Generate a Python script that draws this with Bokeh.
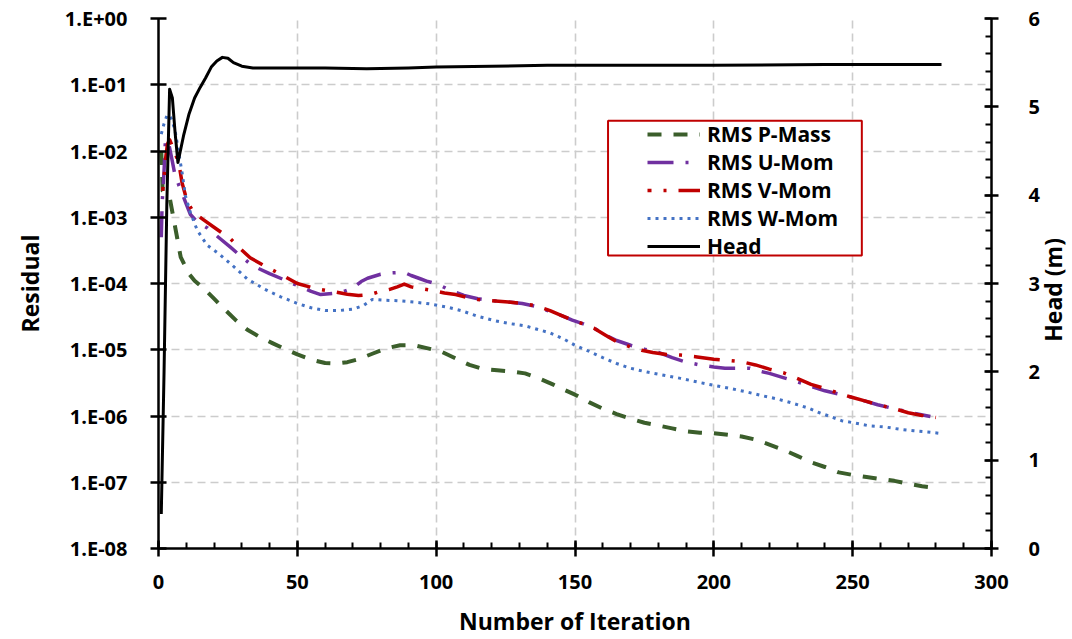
from bokeh.plotting import figure
from bokeh.layouts import row
from bokeh.models import (Range1d, LinearAxis, LinearScale, FixedTicker, CustomJSTickFormatter,
                          Legend, LegendItem, BoxAnnotation, Div)
from bokeh.embed import file_html
from bokeh.resources import INLINE

# ---------------- data ----------------
p_mass_iter = [1, 1.5, 4, 6, 8, 11, 13, 17, 20, 24, 28, 32, 36, 41, 45, 50, 55, 60, 64, 68, 72, 77,
               82, 87, 92, 97, 102, 107, 112, 117, 122, 127, 132, 137, 142, 146, 150, 155, 160, 165,
               170, 175, 180, 185, 190, 195, 200, 205, 210, 215, 220, 225, 230, 235, 240, 245, 250,
               255, 260, 265, 270, 275, 279]
p_mass_res = [1.0e-2, 2.5e-3, 2.0e-3, 7.1e-4, 2.5e-4, 1.4e-4, 1.1e-4, 7.9e-5, 5.9e-5, 4.0e-5, 2.75e-5,
              2.0e-5, 1.6e-5, 1.26e-5, 1.05e-5, 8.5e-6, 7.1e-6, 6.3e-6, 6.2e-6, 6.5e-6, 7.2e-6, 8.7e-6,
              1.05e-5, 1.17e-5, 1.17e-5, 1.05e-5, 9.3e-6, 7.4e-6, 5.9e-6, 5.1e-6, 4.9e-6, 4.7e-6, 4.4e-6,
              3.7e-6, 3.0e-6, 2.5e-6, 2.1e-6, 1.62e-6, 1.29e-6, 1.07e-6, 9.1e-7, 7.9e-7, 7.2e-7, 6.5e-7,
              5.9e-7, 5.6e-7, 5.5e-7, 5.2e-7, 4.9e-7, 4.4e-7, 3.7e-7, 3.1e-7, 2.5e-7, 2.0e-7, 1.7e-7,
              1.41e-7, 1.29e-7, 1.2e-7, 1.12e-7, 1.05e-7, 9.5e-8, 8.7e-8, 8.3e-8]

u_mom_iter = [1, 1.3, 2, 2.5, 3.5, 5, 6, 8.5, 10, 11.5, 14, 17.6, 21.8, 26, 29.6, 33.8, 40, 45, 50, 55,
              58.4, 63, 66, 70, 73, 75.3, 80, 84.3, 88.4, 91, 94.5, 97, 100.5, 105, 110, 115, 120, 126,
              131, 136, 141, 145, 149, 153, 157, 161, 165, 170, 175, 180, 185, 190, 195, 200, 204, 213,
              216, 220, 225, 230, 235, 240, 246, 252, 259, 266, 272, 278]
u_mom_res = [5.0e-4, 1.58e-3, 5.0e-3, 1.48e-2, 1.41e-2, 6.9e-3, 4.2e-3, 2.3e-3, 1.58e-3, 1.1e-3, 8.5e-4,
             6.9e-4, 4.9e-4, 3.5e-4, 2.6e-4, 1.86e-4, 1.41e-4, 1.15e-4, 9.3e-5, 7.6e-5, 6.8e-5, 7.1e-5,
             7.4e-5, 8.5e-5, 1.07e-4, 1.2e-4, 1.38e-4, 1.45e-4, 1.48e-4, 1.32e-4, 1.17e-4, 1.07e-4,
             9.8e-5, 7.9e-5, 6.6e-5, 5.9e-5, 5.5e-5, 5.25e-5, 5.0e-5, 4.5e-5, 3.8e-5, 3.3e-5, 2.8e-5,
             2.45e-5, 2.1e-5, 1.66e-5, 1.38e-5, 1.17e-5, 1.02e-5, 9.1e-6, 7.6e-6, 6.5e-6, 5.9e-6,
             5.5e-6, 5.25e-6, 5.25e-6, 4.8e-6, 4.4e-6, 3.8e-6, 3.3e-6, 2.8e-6, 2.4e-6, 2.1e-6, 1.8e-6,
             1.48e-6, 1.26e-6, 1.1e-6, 9.8e-7]

v_mom_iter = [1.5, 2, 2.5, 3.2, 4, 5.5, 7.3, 8.5, 10.3, 12.7, 16, 21, 26, 29.6, 33, 38, 44, 50, 57, 64,
              68, 72, 76, 79, 83, 86, 88.5, 91, 95, 99, 103, 107, 111, 115, 120, 126, 131, 136, 141,
              145, 149, 153, 157, 161, 165, 170, 174, 178, 183, 188, 194, 200, 205, 210, 215, 220,
              225, 230, 235, 240, 245, 250, 255, 260, 265, 270, 275, 280]
v_mom_res = [2.5e-3, 4.0e-3, 7.4e-3, 1.26e-2, 1.48e-2, 1.05e-2, 6.6e-3, 3.3e-3, 1.74e-3, 1.17e-3, 9.3e-4,
             6.6e-4, 4.7e-4, 3.3e-4, 2.45e-4, 1.86e-4, 1.38e-4, 1.0e-4, 8.3e-5, 7.4e-5, 6.9e-5, 6.6e-5,
             6.8e-5, 7.4e-5, 8.1e-5, 8.9e-5, 9.8e-5, 8.9e-5, 8.3e-5, 7.8e-5, 7.2e-5, 6.8e-5, 6.2e-5,
             5.75e-5, 5.5e-5, 5.25e-5, 5.0e-5, 4.6e-5, 3.9e-5, 3.3e-5, 2.8e-5, 2.45e-5, 2.1e-5,
             1.66e-5, 1.32e-5, 1.1e-5, 9.8e-6, 9.1e-6, 8.5e-6, 8.3e-6, 7.8e-6, 7.2e-6, 6.9e-6, 6.6e-6,
             5.9e-6, 5.1e-6, 4.5e-6, 3.7e-6, 3.0e-6, 2.6e-6, 2.2e-6, 1.9e-6, 1.66e-6, 1.45e-6,
             1.29e-6, 1.12e-6, 1.02e-6, 9.5e-7]

w_mom_iter = [1, 2, 3, 4, 5, 6, 7.3, 8.5, 9.7, 11.5, 14, 17.5, 22, 26.5, 32, 38, 44, 50, 55, 60, 65, 70,
              74, 77, 81, 86, 92, 98, 104, 109, 115, 121, 126, 132, 137, 141, 146, 150, 155, 160, 165,
              170, 176, 181, 188, 195, 200, 206, 212, 218, 223, 228, 234, 238, 242, 246, 251, 256,
              262, 267, 272, 277, 281]
w_mom_res = [1.8e-2, 2.6e-2, 3.4e-2, 3.5e-2, 2.8e-2, 2.0e-2, 9.3e-3, 4.7e-3, 2.1e-3, 1.17e-3, 6.3e-4,
             3.8e-4, 2.75e-4, 1.9e-4, 1.17e-4, 8.3e-5, 6.3e-5, 5.0e-5, 4.3e-5, 3.9e-5, 3.9e-5, 4.1e-5,
             4.7e-5, 5.75e-5, 5.6e-5, 5.5e-5, 5.25e-5, 4.9e-5, 4.4e-5, 3.9e-5, 3.2e-5, 2.75e-5, 2.5e-5,
             2.3e-5, 2.0e-5, 1.8e-5, 1.45e-5, 1.17e-5, 9.5e-6, 7.6e-6, 6.2e-6, 5.25e-6, 4.6e-6,
             4.2e-6, 3.7e-6, 3.2e-6, 2.9e-6, 2.6e-6, 2.3e-6, 2.0e-6, 1.8e-6, 1.58e-6, 1.32e-6,
             1.12e-6, 9.8e-7, 8.5e-7, 7.8e-7, 7.1e-7, 6.8e-7, 6.3e-7, 6.0e-7, 5.75e-7, 5.5e-7]

head_iter = [1, 2, 3, 4, 5, 6, 7, 8, 9, 11, 13, 15, 17, 19, 21, 23, 25, 27, 30, 34, 45, 60, 75, 90,
             100, 120, 140, 170, 200, 240, 282]
head_m = [0.39, 2.0, 3.9, 5.2, 5.1, 4.7, 4.37, 4.52, 4.67, 4.92, 5.1, 5.22, 5.33, 5.45, 5.52, 5.56,
          5.55, 5.5, 5.46, 5.44, 5.44, 5.44, 5.43, 5.44, 5.45, 5.46, 5.47, 5.47, 5.47, 5.48, 5.48]

x_ticks = [0, 50, 100, 150, 200, 250, 300]
x_minor = [0, 10, 20, 30, 40, 50, 60, 70, 80, 90, 100, 110, 120, 130, 140, 150, 160, 170, 180, 190,
           200, 210, 220, 230, 240, 250, 260, 270, 280, 290, 300]
res_ticks = [1e-8, 1e-7, 1e-6, 1e-5, 1e-4, 1e-3, 1e-2, 1e-1, 1.0]
head_ticks = [0, 1, 2, 3, 4, 5, 6]
head_minor = [0, 0.2, 0.4, 0.6, 0.8, 1, 1.2, 1.4, 1.6, 1.8, 2, 2.2, 2.4, 2.6, 2.8, 3, 3.2, 3.4, 3.6,
              3.8, 4, 4.2, 4.4, 4.6, 4.8, 5, 5.2, 5.4, 5.6, 5.8, 6]

# ---------------- figure ----------------
FONT = "Open Sans"
p = figure(width=1042, height=639, x_range=Range1d(0, 300), y_range=Range1d(1e-8, 1.0),
           y_axis_type="log", output_backend="svg", toolbar_location=None,
           min_border_left=158, min_border_right=51, min_border_top=18, min_border_bottom=87)
p.margin = 0
p.extra_y_ranges = {"head": Range1d(0, 6)}
p.extra_y_scales = {"head": LinearScale()}
p.outline_line_color = None
p.background_fill_color = "white"

# grid
for g in (p.xgrid, p.ygrid):
    g.grid_line_color = "#CCCCCC"
    g.grid_line_dash = "8 5"
    g.grid_line_width = 1.6
p.xgrid.ticker = FixedTicker(ticks=x_ticks)
p.ygrid.ticker = FixedTicker(ticks=res_ticks)

# series
r_p = p.line(p_mass_iter, p_mass_res, line_color="#3B5E2B", line_width=4, line_dash="14 12",
             line_join="round")
r_u = p.line(u_mom_iter, u_mom_res, line_color="#7030A0", line_width=3.5, line_dash="26 12 3 12",
             line_join="round")
r_v = p.line(v_mom_iter, v_mom_res, line_color="#C00000", line_width=3.5, line_dash="26 12 3 12",
             line_dash_offset=22, line_join="round")
r_w = p.line(w_mom_iter, w_mom_res, line_color="#4472C4", line_width=3, line_dash="3 5",
             line_join="round")
r_h = p.line(head_iter, head_m, line_color="black", line_width=3, y_range_name="head",
             line_join="round")

# axes styling
def style_axis(ax, size="20px"):
    ax.axis_line_color = "black"
    ax.axis_line_width = 2.5
    ax.major_tick_line_color = "black"
    ax.major_tick_line_width = 2.5
    ax.major_tick_in = 8
    ax.major_tick_out = 8
    ax.minor_tick_line_color = "black"
    ax.minor_tick_line_width = 2
    ax.minor_tick_in = 6
    ax.minor_tick_out = 0
    ax.major_label_text_font = FONT
    ax.major_label_text_font_style = "bold"
    ax.major_label_text_font_size = size
    ax.major_label_text_color = "black"
    ax.axis_label_text_font = FONT
    ax.axis_label_text_font_style = "bold"
    ax.axis_label_text_font_size = "23px"
    ax.axis_label_text_color = "black"

xa = p.xaxis[0]
style_axis(xa)
xa.ticker = FixedTicker(ticks=x_ticks, minor_ticks=x_minor)
xa.axis_label = "Number of Iteration"
xa.major_label_standoff = 18
xa.axis_label_standoff = 13

ya = p.yaxis[0]
style_axis(ya)
ya.ticker = FixedTicker(ticks=res_ticks, minor_ticks=[])
ya.minor_tick_line_color = None
ya.formatter = CustomJSTickFormatter(code="""
    const e = Math.round(Math.log10(tick));
    const a = Math.abs(e);
    return "1.E" + (e < 0 ? "-" : "+") + (a < 10 ? "0" : "") + a;
""")
ya.axis_label = "Residual"
ya.major_label_standoff = 23
ya.axis_label_standoff = 16

ra = LinearAxis(y_range_name="head", ticker=FixedTicker(ticks=head_ticks, minor_ticks=head_minor))
style_axis(ra)
ra.major_tick_in = 7
ra.major_tick_out = 7
ra.major_label_standoff = 30
p.add_layout(ra, "right")

# legend frame + legend
legend_box = BoxAnnotation(left=161.9, right=253.3, top=2.86e-2, bottom=2.65e-4,
                           fill_color="white", fill_alpha=1.0, line_color="#C00000",
                           line_alpha=1.0, line_width=2)
p.add_layout(legend_box)

legend = Legend(items=[LegendItem(label="RMS P-Mass", renderers=[r_p]),
                       LegendItem(label="RMS U-Mom", renderers=[r_u]),
                       LegendItem(label="RMS V-Mom", renderers=[r_v]),
                       LegendItem(label="RMS W-Mom", renderers=[r_w]),
                       LegendItem(label="Head", renderers=[r_h])],
                location=(485, 284), orientation="vertical")
legend.background_fill_alpha = 0
legend.border_line_alpha = 0
legend.padding = 4
legend.spacing = 0
legend.margin = 0
legend.glyph_width = 53
legend.glyph_height = 20
legend.label_height = 20
legend.label_standoff = 7
legend.label_text_font = FONT
legend.label_text_font_style = "bold"
legend.label_text_font_size = "21px"
legend.label_text_color = "black"
p.add_layout(legend)

# right-hand axis title, reading bottom-to-top as in the reference
head_title = Div(
    text=('<div style="width:22px;height:580px;display:flex;align-items:center;'
          'justify-content:center;">'
          '<span style="writing-mode:vertical-rl;transform:rotate(180deg);'
          "font-family:'Open Sans';font-weight:bold;font-size:23px;color:#000;"
          'white-space:nowrap;line-height:1;">Head (m)</span></div>'),
    width=30, height=639, margin=0)

layout = row(p, head_title, spacing=0)
open("out.html", "w").write(file_html(layout, INLINE))
